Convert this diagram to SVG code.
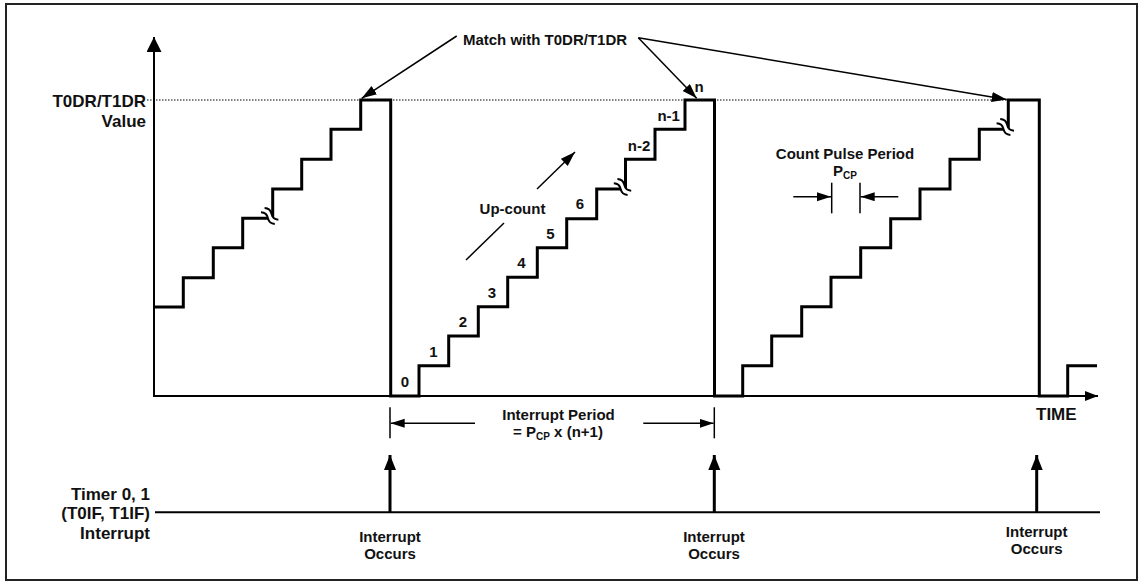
<svg xmlns="http://www.w3.org/2000/svg" width="1143" height="584" viewBox="0 0 1143 584">
<style>
text{font-family:"Liberation Sans",Arial,Helvetica,sans-serif;font-weight:bold;fill:#111;}
.lbl{font-size:17px;}
.sm{font-size:15px;}
.num{font-size:15px;text-anchor:middle;}
.mid{text-anchor:middle;}
.end{text-anchor:end;}
.wave{fill:none;stroke:#000;stroke-width:3;stroke-linejoin:miter;}
.thin{fill:none;stroke:#000;stroke-width:1.5;}
.axis{fill:none;stroke:#000;stroke-width:2;}
</style>
<defs>
<marker id="ahY" markerUnits="userSpaceOnUse" markerWidth="16" markerHeight="16" refX="15" refY="7.5" orient="auto"><path d="M0,0 L15,7.5 L0,15 z" fill="#000"/></marker>
<marker id="ahX" markerUnits="userSpaceOnUse" markerWidth="14" markerHeight="11" refX="13" refY="5" orient="auto"><path d="M0,0 L13,5 L0,10 z" fill="#000"/></marker>
<marker id="ahM" markerUnits="userSpaceOnUse" markerWidth="16" markerHeight="11" refX="15" refY="5" orient="auto"><path d="M0,0 L15,5 L0,10 z" fill="#000"/></marker>
<marker id="ahS" markerUnits="userSpaceOnUse" markerWidth="15" markerHeight="10" refX="14" refY="4.5" orient="auto"><path d="M0,0 L14,4.5 L0,9 z" fill="#000"/></marker>
<marker id="ahI" markerUnits="userSpaceOnUse" markerWidth="16" markerHeight="13" refX="15" refY="6" orient="auto"><path d="M0,0 L15,6 L0,12 z" fill="#000"/></marker>
<g id="brk">
<path d="M-9,0 q4.5,-3.5 9,0 t9,0" fill="none" stroke="#fff" stroke-width="5"/>
<path d="M-9,-2.8 q4.5,-3.5 9,0 t9,0" fill="none" stroke="#000" stroke-width="2"/>
<path d="M-9,2.8 q4.5,-3.5 9,0 t9,0" fill="none" stroke="#000" stroke-width="2"/>
</g>
</defs>
<rect x="6" y="4" width="1131" height="576" fill="#fff" stroke="#222" stroke-width="2"/>

<g id="axes">
<line class="axis" x1="154" y1="397" x2="154" y2="37" marker-end="url(#ahY)"/>
<line class="axis" x1="154" y1="396" x2="1098" y2="396" marker-end="url(#ahX)"/>
<line x1="147" y1="100" x2="1008" y2="100" stroke="#000" stroke-width="1" stroke-dasharray="1.5,1.5"/>
</g>

<g id="waveform">
<path class="wave" d="M154,307 H183.3 V277.7 H213.3 V247.7 H242.7 V218.3 H272.7 V189 H301.7 V159.3 H331 V129.3 H360.7 V100 H390.7 V396 H419 V365.7 H448.7 V336 H478.3 V306.7 H507.7 V277.3 H537.3 V247.7 H566.7 V218.7 H596.7 V189 H625.5 V159.3 H655 V129.3 H685 V100 H714.5 V396 H742.7 V365.7 H771.7 V336 H801.7 V306.7 H831 V277.3 H860.7 V247.7 H890.7 V218.7 H920 V189 H950 V159.3 H979.3 V129.3 H1008.3 V100 H1039.3 V396 H1067.7 V365.7 H1097"/>
<use href="#brk" transform="translate(269.7,216) rotate(40)"/>
<use href="#brk" transform="translate(622.5,187) rotate(40)"/>
<use href="#brk" transform="translate(1005.3,127) rotate(40)"/>
</g>

<g id="y-label">
<text class="lbl end" x="146" y="106.5">T0DR/T1DR</text>
<text class="lbl end" x="146" y="126.5">Value</text>
</g>

<g id="match-label">
<text class="sm mid" x="545" y="45">Match with T0DR/T1DR</text>
</g>

<g id="step-numbers">
<text class="num" x="405" y="387">0</text>
<text class="num" x="433.5" y="357.3">1</text>
<text class="num" x="463" y="327">2</text>
<text class="num" x="492" y="297.5">3</text>
<text class="num" x="521.5" y="268">4</text>
<text class="num" x="550.5" y="238.5">5</text>
<text class="num" x="580" y="208.5">6</text>
<text class="num" x="639" y="150.5">n-2</text>
<text class="num" x="668.7" y="120.5">n-1</text>
<text class="num" x="699" y="91.5">n</text>
</g>

<g id="upcount">
<text class="sm mid" x="512.5" y="214">Up-count</text>
</g>

<g id="count-pulse">
<text class="sm mid" x="845" y="159.3">Count Pulse Period</text>
<text class="sm mid" x="845" y="175.5">P<tspan font-size="10" dy="3">CP</tspan></text>
</g>

<g id="time-label">
<text class="lbl" x="1036" y="420">TIME</text>
</g>

<g id="interrupt-period">
<text class="sm mid" x="558.5" y="420">Interrupt Period</text>
<text class="sm mid" x="558" y="437.3">= P<tspan font-size="10" dy="3">CP</tspan><tspan dy="-3"> x (n+1)</tspan></text>
</g>

<g id="timer-label">
<text class="lbl end" x="150" y="499.5">Timer 0, 1</text>
<text class="lbl end" x="150" y="519">(T0IF, T1IF)</text>
<text class="lbl end" x="150" y="539">Interrupt</text>
</g>

<g id="occurs-labels">
<text class="sm mid" x="390" y="541.7">Interrupt</text>
<text class="sm mid" x="390" y="559.3">Occurs</text>
<text class="sm mid" x="714" y="541.7">Interrupt</text>
<text class="sm mid" x="714" y="559.3">Occurs</text>
<text class="sm mid" x="1036.7" y="536.7">Interrupt</text>
<text class="sm mid" x="1036.7" y="554">Occurs</text>
</g>

<g id="connectors">
<line class="thin" x1="456.7" y1="36" x2="361.7" y2="98.3" marker-end="url(#ahM)"/>
<line class="thin" x1="638.3" y1="37.7" x2="696.7" y2="98.3" marker-end="url(#ahM)"/>
<line class="thin" x1="638.3" y1="37.7" x2="1006.7" y2="99.5" marker-end="url(#ahM)"/>
<line class="thin" x1="466" y1="260" x2="504" y2="223"/>
<line class="thin" x1="537" y1="189" x2="575" y2="152" marker-end="url(#ahM)"/>
<line class="thin" x1="831.7" y1="182.7" x2="831.7" y2="213.3"/>
<line class="thin" x1="860" y1="182.7" x2="860" y2="213.3"/>
<line class="thin" x1="793.3" y1="196.7" x2="831" y2="196.7" marker-end="url(#ahS)"/>
<line class="thin" x1="898.3" y1="196.7" x2="860.7" y2="196.7" marker-end="url(#ahS)"/>
<line class="thin" x1="390" y1="407.3" x2="390" y2="438.3"/>
<line class="thin" x1="714.3" y1="407.3" x2="714.3" y2="438.3"/>
<line class="thin" x1="475" y1="423.3" x2="390.7" y2="423.3" marker-end="url(#ahS)"/>
<line class="thin" x1="643.3" y1="423.3" x2="713.6" y2="423.3" marker-end="url(#ahS)"/>
<line class="axis" x1="155" y1="512.3" x2="1100" y2="512.3"/>
<line x1="390" y1="512.3" x2="390" y2="455" stroke="#000" stroke-width="3" marker-end="url(#ahI)"/>
<line x1="714.3" y1="512.3" x2="714.3" y2="455" stroke="#000" stroke-width="3" marker-end="url(#ahI)"/>
<line x1="1036.7" y1="512.3" x2="1036.7" y2="455" stroke="#000" stroke-width="3" marker-end="url(#ahI)"/>
</g>
</svg>
